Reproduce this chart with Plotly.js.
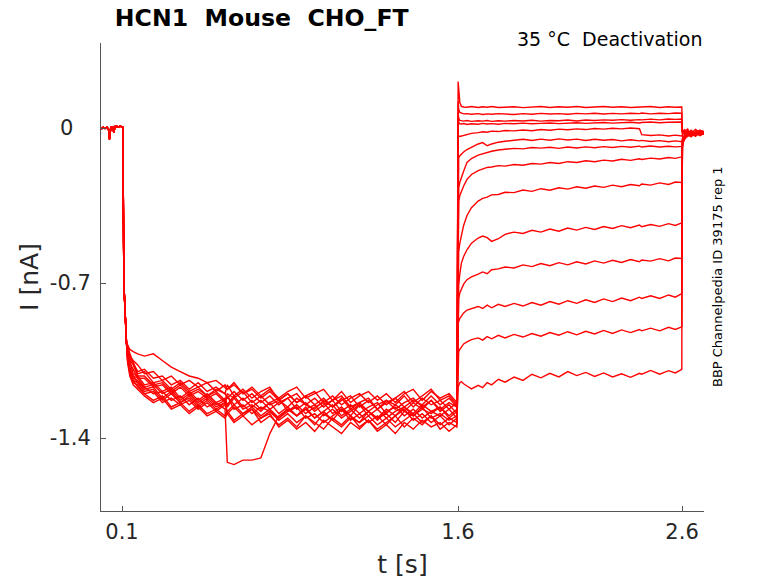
<!DOCTYPE html>
<html>
<head>
<meta charset="utf-8">
<script src="https://cdn.plot.ly/plotly-3.0.1.min.js"></script>
<style>
  html, body { margin: 0; padding: 0; background: #fff; }
  #plot { width: 778px; height: 583px; }
</style>
</head>
<body>
<div id="plot"></div>
<script>
// holding level before the step (same for all sweeps)
const tBase = [0.000, 0.008, 0.016, 0.024, 0.032, 0.040, 0.044, 0.046, 0.050, 0.058, 0.064, 0.068, 0.076, 0.084, 0.092, 0.098, 0.1035];
const iBase = [0.002, -0.004, 0.003, -0.002, 0.004, -0.006, -0.050, -0.012, 0.002, 0.005, -0.022, 0.006, 0.008, 0.004, 0.009, 0.005, 0.003];

// fast activation right after the step at 0.1 s
const tDrop = [0.1045, 0.1052, 0.106, 0.108, 0.110, 0.113, 0.116, 0.120];
const iDrop = [-0.10, -0.34, -0.52, -0.64, -0.74, -0.83, -0.91, -0.97];

// prepulse, 0.125 .. 1.595 s
const tPre = [0.125, 0.135, 0.15, 0.17, 0.20, 0.24, 0.28, 0.32, 0.36, 0.40, 0.44, 0.48, 0.52, 0.56, 0.57,
  0.60, 0.64, 0.68, 0.72, 0.76, 0.80, 0.84, 0.88, 0.92, 0.96, 1.00, 1.04, 1.08, 1.12, 1.16, 1.20,
  1.24, 1.28, 1.32, 1.36, 1.40, 1.44, 1.48, 1.52, 1.56, 1.595];

const pre01 = [-0.99, -1.04, -1.06, -1.11, -1.10, -1.15, -1.14, -1.18, -1.15, -1.19, -1.17, -1.21, -1.18, -1.20, -1.22, -1.19, -1.23, -1.20, -1.24, -1.21, -1.25, -1.22, -1.20, -1.25, -1.22, -1.26, -1.23, -1.21, -1.26, -1.24, -1.22, -1.27, -1.23, -1.25, -1.21, -1.26, -1.22, -1.25, -1.23, -1.27, -1.24];
const pre02 = [-1.03, -1.09, -1.13, -1.14, -1.18, -1.17, -1.22, -1.19, -1.24, -1.21, -1.25, -1.22, -1.26, -1.24, -1.21, -1.27, -1.25, -1.29, -1.26, -1.28, -1.31, -1.27, -1.30, -1.26, -1.31, -1.28, -1.32, -1.27, -1.30, -1.33, -1.28, -1.31, -1.29, -1.33, -1.28, -1.30, -1.26, -1.31, -1.29, -1.32, -1.30];
const pre03 = [-0.98, -1.03, -1.05, -1.07, -1.11, -1.10, -1.14, -1.12, -1.16, -1.14, -1.17, -1.15, -1.19, -1.16, -1.18, -1.15, -1.20, -1.17, -1.21, -1.18, -1.22, -1.19, -1.17, -1.22, -1.20, -1.18, -1.23, -1.19, -1.24, -1.21, -1.19, -1.23, -1.20, -1.24, -1.20, -1.18, -1.23, -1.19, -1.22, -1.20, -1.24];
const pre04 = [-1.05, -1.11, -1.14, -1.17, -1.20, -1.23, -1.21, -1.26, -1.24, -1.28, -1.25, -1.29, -1.27, -1.30, -1.28, -1.32, -1.29, -1.27, -1.33, -1.30, -1.34, -1.31, -1.35, -1.30, -1.33, -1.36, -1.31, -1.34, -1.30, -1.35, -1.32, -1.36, -1.33, -1.30, -1.35, -1.31, -1.34, -1.30, -1.36, -1.33, -1.35];
const pre05 = [-1.02, -1.06, -1.11, -1.12, -1.16, -1.15, -1.19, -1.17, -1.22, -1.19, -1.23, -1.20, -1.24, -1.22, -1.25, -1.21, -1.26, -1.23, -1.27, -1.24, -1.22, -1.28, -1.25, -1.29, -1.26, -1.24, -1.29, -1.26, -1.30, -1.25, -1.28, -1.31, -1.27, -1.30, -1.26, -1.29, -1.25, -1.28, -1.26, -1.30, -1.27];
const pre06 = [-1.00, -1.05, -1.07, -1.12, -1.12, -1.16, -1.15, -1.19, -1.16, -1.20, -1.18, -1.21, -1.19, -1.23, -1.20, -1.22, -1.19, -1.24, -1.21, -1.25, -1.23, -1.26, -1.22, -1.25, -1.27, -1.23, -1.26, -1.22, -1.27, -1.24, -1.28, -1.25, -1.23, -1.27, -1.24, -1.22, -1.26, -1.23, -1.27, -1.24, -1.26];
const pre07 = [-1.05, -1.10, -1.15, -1.16, -1.20, -1.19, -1.24, -1.22, -1.25, -1.23, -1.27, -1.24, -1.28, -1.25, -1.29, -1.26, -1.30, -1.27, -1.31, -1.28, -1.32, -1.29, -1.33, -1.30, -1.34, -1.29, -1.32, -1.35, -1.31, -1.33, -1.30, -1.34, -1.31, -1.35, -1.32, -1.29, -1.33, -1.30, -1.34, -1.31, -1.33];
const pre08 = [-0.99, -1.02, -1.06, -1.10, -1.09, -1.13, -1.12, -1.16, -1.14, -1.18, -1.15, -1.19, -1.17, -1.20, -1.16, -1.21, -1.18, -1.22, -1.19, -1.17, -1.23, -1.20, -1.24, -1.21, -1.19, -1.24, -1.21, -1.25, -1.22, -1.20, -1.24, -1.21, -1.25, -1.22, -1.19, -1.24, -1.21, -1.18, -1.23, -1.21, -1.25];
const pre09 = [-1.03, -1.08, -1.12, -1.13, -1.17, -1.16, -1.20, -1.18, -1.23, -1.20, -1.24, -1.21, -1.25, -1.23, -1.26, -1.22, -1.27, -1.25, -1.28, -1.24, -1.29, -1.26, -1.30, -1.27, -1.25, -1.30, -1.27, -1.31, -1.28, -1.25, -1.30, -1.27, -1.31, -1.28, -1.26, -1.30, -1.27, -1.29, -1.26, -1.31, -1.28];
const pre10 = [-1.01, -1.06, -1.09, -1.13, -1.13, -1.17, -1.16, -1.20, -1.17, -1.21, -1.19, -1.22, -1.20, -1.24, -1.21, -1.25, -1.22, -1.26, -1.23, -1.27, -1.24, -1.22, -1.27, -1.24, -1.28, -1.25, -1.23, -1.28, -1.25, -1.29, -1.26, -1.24, -1.29, -1.25, -1.28, -1.24, -1.27, -1.23, -1.28, -1.25, -1.29];
const pre11 = [-1.04, -1.09, -1.14, -1.15, -1.19, -1.18, -1.23, -1.20, -1.24, -1.22, -1.26, -1.23, -1.27, -1.24, -1.28, -1.25, -1.29, -1.26, -1.30, -1.27, -1.31, -1.28, -1.26, -1.31, -1.29, -1.33, -1.30, -1.27, -1.32, -1.29, -1.33, -1.30, -1.34, -1.30, -1.27, -1.32, -1.29, -1.33, -1.30, -1.34, -1.31];
const pre12 = [-0.98, -1.00, -1.01, -1.02, -1.03, -1.02, -1.05, -1.08, -1.10, -1.12, -1.13, -1.15, -1.14, -1.17, -1.18, -1.16, -1.20, -1.18, -1.22, -1.19, -1.23, -1.20, -1.24, -1.21, -1.25, -1.22, -1.26, -1.23, -1.21, -1.26, -1.23, -1.27, -1.24, -1.22, -1.26, -1.23, -1.25, -1.21, -1.25, -1.22, -1.26];
const pre13 = [-1.06, -1.12, -1.16, -1.18, -1.21, -1.24, -1.22, -1.27, -1.25, -1.29, -1.26, -1.30, -1.28, -1.31, -1.29, -1.33, -1.30, -1.34, -1.31, -1.29, -1.35, -1.32, -1.36, -1.33, -1.37, -1.32, -1.35, -1.38, -1.33, -1.36, -1.32, -1.37, -1.34, -1.38, -1.33, -1.36, -1.32, -1.35, -1.33, -1.37, -1.34];
// the sweep with the brief extra inward current near 0.57 s
const pre14 = [-1.03, -1.09, -1.12, -1.15, -1.17, -1.20, -1.19, -1.23, -1.21, -1.25, -1.22, -1.26, -1.24, -1.27, -1.51, -1.52, -1.50, -1.50, -1.49, -1.38, -1.30, -1.27, -1.30, -1.27, -1.31, -1.28, -1.25, -1.30, -1.27, -1.31, -1.28, -1.32, -1.28, -1.26, -1.30, -1.27, -1.31, -1.28, -1.30, -1.27, -1.31];

// deactivation tails, 1.6 .. 2.6 s
const tTail = [1.6005, 1.603, 1.608, 1.615, 1.625, 1.64, 1.66, 1.69, 1.71, 1.73, 1.75, 1.78, 1.81, 1.85,
  1.89, 1.93, 1.97, 2.01, 2.05, 2.09, 2.13, 2.17, 2.21, 2.25, 2.29, 2.33, 2.37, 2.41, 2.42,
  2.46, 2.50, 2.54, 2.57, 2.599];

const tail01 = [0.21, 0.16, 0.115, 0.098, 0.095, 0.094, 0.097, 0.093, 0.096, 0.094, 0.097, 0.093, 0.095, 0.096, 0.092, 0.095, 0.097, 0.093, 0.096, 0.094, 0.097, 0.093, 0.095, 0.097, 0.094, 0.096, 0.093, 0.095, 0.094, 0.097, 0.093, 0.096, 0.094, 0.095];
const tail02 = [0.12, 0.085, 0.070, 0.066, 0.064, 0.065, 0.062, 0.065, 0.061, 0.064, 0.062, 0.065, 0.063, 0.061, 0.065, 0.062, 0.066, 0.063, 0.065, 0.062, 0.066, 0.064, 0.067, 0.063, 0.066, 0.064, 0.067, 0.065, 0.068, 0.064, 0.067, 0.065, 0.068, 0.067];
const tail03 = [0.07, 0.045, 0.034, 0.033, 0.031, 0.034, 0.030, 0.033, 0.031, 0.034, 0.030, 0.033, 0.031, 0.034, 0.032, 0.035, 0.031, 0.034, 0.033, 0.036, 0.032, 0.036, 0.034, 0.037, 0.035, 0.038, 0.035, 0.038, 0.037, 0.040, 0.037, 0.041, 0.039, 0.041];
const tail04 = [0.05, 0.025, 0.019, 0.018, 0.020, 0.016, 0.019, 0.017, 0.021, 0.018, 0.020, 0.017, 0.021, 0.019, 0.022, 0.019, 0.021, 0.023, 0.020, 0.022, 0.024, 0.021, 0.023, 0.025, 0.022, 0.024, 0.026, 0.023, 0.025, 0.027, 0.024, 0.026, 0.028, 0.027];
const tail05 = [-0.030, -0.036, -0.038, -0.036, -0.032, -0.028, -0.024, -0.021, -0.017, -0.019, -0.014, -0.016, -0.011, -0.013, -0.009, -0.012, -0.007, -0.010, -0.005, -0.008, -0.004, -0.007, -0.002, -0.005, -0.001, -0.004, 0.000, -0.003, -0.030, -0.034, -0.031, -0.036, -0.032, -0.036];
const tail06 = [-0.150, -0.135, -0.125, -0.117, -0.108, -0.097, -0.086, -0.072, -0.066, -0.080, -0.072, -0.064, -0.060, -0.056, -0.051, -0.056, -0.050, -0.055, -0.049, -0.054, -0.050, -0.056, -0.051, -0.055, -0.052, -0.058, -0.053, -0.058, -0.056, -0.061, -0.057, -0.062, -0.058, -0.062];
const tail07 = [-0.300, -0.270, -0.245, -0.220, -0.195, -0.155, -0.138, -0.122, -0.116, -0.108, -0.105, -0.099, -0.097, -0.092, -0.094, -0.088, -0.091, -0.087, -0.092, -0.086, -0.090, -0.085, -0.089, -0.084, -0.088, -0.083, -0.087, -0.082, -0.086, -0.081, -0.086, -0.082, -0.085, -0.083];
const tail08 = [-0.360, -0.330, -0.305, -0.285, -0.262, -0.232, -0.210, -0.192, -0.185, -0.178, -0.176, -0.170, -0.172, -0.165, -0.168, -0.160, -0.163, -0.156, -0.160, -0.152, -0.156, -0.148, -0.152, -0.145, -0.149, -0.141, -0.146, -0.139, -0.142, -0.136, -0.140, -0.133, -0.137, -0.130];
const tail09 = [-0.600, -0.560, -0.520, -0.480, -0.440, -0.395, -0.360, -0.330, -0.318, -0.312, -0.302, -0.300, -0.290, -0.292, -0.280, -0.286, -0.274, -0.281, -0.270, -0.276, -0.265, -0.272, -0.262, -0.268, -0.258, -0.265, -0.255, -0.261, -0.253, -0.258, -0.248, -0.255, -0.244, -0.246];
const tail10 = [-0.750, -0.710, -0.660, -0.610, -0.580, -0.550, -0.520, -0.497, -0.488, -0.495, -0.512, -0.500, -0.480, -0.470, -0.476, -0.462, -0.470, -0.456, -0.466, -0.452, -0.461, -0.449, -0.458, -0.445, -0.454, -0.441, -0.450, -0.438, -0.446, -0.436, -0.444, -0.432, -0.440, -0.428];
const tail11 = [-0.800, -0.770, -0.745, -0.725, -0.705, -0.685, -0.672, -0.660, -0.650, -0.658, -0.640, -0.636, -0.628, -0.632, -0.618, -0.626, -0.612, -0.622, -0.608, -0.618, -0.604, -0.614, -0.600, -0.610, -0.597, -0.607, -0.594, -0.604, -0.596, -0.601, -0.590, -0.600, -0.587, -0.589];
const tail12 = [-0.880, -0.870, -0.860, -0.850, -0.835, -0.822, -0.816, -0.806, -0.815, -0.800, -0.812, -0.796, -0.806, -0.792, -0.804, -0.788, -0.800, -0.784, -0.796, -0.780, -0.792, -0.776, -0.788, -0.772, -0.784, -0.768, -0.780, -0.764, -0.770, -0.758, -0.770, -0.754, -0.764, -0.748];
const tail13 = [-1.020, -1.010, -1.000, -0.990, -0.975, -0.966, -0.956, -0.948, -0.958, -0.942, -0.952, -0.936, -0.948, -0.932, -0.944, -0.928, -0.940, -0.924, -0.936, -0.920, -0.934, -0.918, -0.930, -0.914, -0.928, -0.912, -0.924, -0.910, -0.916, -0.904, -0.916, -0.900, -0.910, -0.898];
const tail14 = [-1.170, -1.160, -1.150, -1.145, -1.155, -1.165, -1.178, -1.162, -1.172, -1.150, -1.160, -1.135, -1.148, -1.125, -1.140, -1.112, -1.128, -1.108, -1.124, -1.100, -1.118, -1.104, -1.122, -1.106, -1.124, -1.110, -1.126, -1.108, -1.112, -1.095, -1.112, -1.096, -1.106, -1.090];

// back to holding after 2.6 s
const tPost = [2.6005, 2.604, 2.612, 2.625, 2.64, 2.66, 2.68, 2.71];

const post01 = [-0.012, -0.022, -0.008, -0.026, -0.012, -0.030, -0.010, -0.020];
const post02 = [-0.018, -0.008, -0.030, -0.014, -0.024, -0.006, -0.022, -0.012];
const post03 = [-0.025, -0.012, -0.020, -0.032, -0.010, -0.026, -0.016, -0.028];
const post04 = [-0.008, -0.028, -0.015, -0.005, -0.030, -0.018, -0.034, -0.014];
const post05 = [-0.035, -0.018, -0.030, -0.012, -0.036, -0.020, -0.010, -0.028];
const post06 = [-0.050, -0.035, -0.040, -0.022, -0.034, -0.015, -0.030, -0.020];
const post07 = [-0.060, -0.045, -0.030, -0.038, -0.020, -0.032, -0.012, -0.026];
const post08 = [-0.075, -0.055, -0.042, -0.028, -0.036, -0.018, -0.030, -0.016];
const post09 = [-0.085, -0.060, -0.045, -0.035, -0.022, -0.038, -0.020, -0.030];
const post10 = [-0.090, -0.065, -0.050, -0.030, -0.040, -0.024, -0.034, -0.018];
const post11 = [-0.080, -0.058, -0.044, -0.026, -0.036, -0.020, -0.032, -0.022];
const post12 = [-0.095, -0.070, -0.048, -0.038, -0.024, -0.036, -0.018, -0.028];
const post13 = [-0.088, -0.062, -0.040, -0.032, -0.022, -0.034, -0.016, -0.026];
const post14 = [-0.070, -0.052, -0.036, -0.030, -0.018, -0.032, -0.022, -0.030];

const xTicks = [0.1, 1.6, 2.6];
const xTickText = ['0.1', '1.6', '2.6'];
const yTicks = [0, -0.7, -1.4];
// the "0" label sits centred under the wider labels, as in the original figure
const yTickText = ['0\u2007\u2009', '-0.7', '-1.4'];

const pres = [pre01, pre02, pre03, pre04, pre05, pre06, pre07, pre08, pre09, pre10, pre11, pre12, pre13, pre14];
const tails = [tail01, tail02, tail03, tail04, tail05, tail06, tail07, tail08, tail09, tail10, tail11, tail12, tail13, tail14];
const posts = [post01, post02, post03, post04, post05, post06, post07, post08, post09, post10, post11, post12, post13, post14];

function add(xs, ys, ts, vs) {
  const n = Math.min(ts.length, vs.length);
  for (let i = 0; i < n; i++) { xs.push(ts[i]); ys.push(vs[i]); }
}

const traces = [];
for (let k = 0; k < pres.length; k++) {
  const x = [], y = [];
  add(x, y, tBase, iBase);
  add(x, y, tDrop, iDrop);
  add(x, y, tPre, pres[k]);
  add(x, y, tTail, tails[k]);
  add(x, y, tPost, posts[k]);
  traces.push({
    x: x, y: y, type: 'scatter', mode: 'lines',
    line: { color: '#ff0000', width: 1.4 },
    showlegend: false, hoverinfo: 'skip'
  });
}

const font = 'DejaVu Sans, sans-serif';
const ink = '#262626';

const layout = {
  width: 778, height: 583,
  margin: { l: 101, r: 74, t: 43, b: 72 },
  paper_bgcolor: '#fff', plot_bgcolor: '#fff',
  font: { family: font, color: ink },
  title: {
    text: 'HCN1  Mouse  CHO_FT',
    font: { family: font, size: 23.6, weight: 'bold', color: '#000' },
    xref: 'paper', x: 0.023, xanchor: 'left',
    yref: 'container', y: 0.969, yanchor: 'middle'
  },
  xaxis: {
    range: [0.00625, 2.698],
    tickvals: xTicks, ticktext: xTickText,
    ticks: 'inside', ticklen: 5, tickcolor: '#555',
    showline: true, linecolor: '#555', linewidth: 1,
    showgrid: false, zeroline: false,
    tickfont: { size: 21, color: ink },
    ticklabelstandoff: 2,
    title: { text: 't [s]', font: { size: 25, color: ink }, standoff: 12 }
  },
  yaxis: {
    range: [-1.7297, 0.384],
    tickvals: yTicks, ticktext: yTickText,
    ticks: 'inside', ticklen: 5, tickcolor: '#555',
    showline: true, linecolor: '#555', linewidth: 1,
    showgrid: false, zeroline: false,
    tickfont: { size: 21, color: ink },
    ticklabelstandoff: 5,
    title: { text: 'I [nA]', font: { size: 25, color: ink }, standoff: 4 }
  },
  annotations: [
    {
      text: '35 °C  Deactivation', showarrow: false,
      xref: 'paper', yref: 'paper', x: 1, y: 1.0085,
      xanchor: 'right', yanchor: 'middle',
      font: { family: font, size: 19, color: '#000' }
    },
    {
      text: 'BBP Channelpedia ID 39175 rep 1', showarrow: false,
      xref: 'paper', yref: 'paper', x: 1.0216, y: 0.5,
      xanchor: 'center', yanchor: 'middle', textangle: -90,
      font: { family: font, size: 13, color: '#000' }
    }
  ]
};

Plotly.newPlot('plot', traces, layout, { displayModeBar: false, staticPlot: true });
</script>
</body>
</html>
